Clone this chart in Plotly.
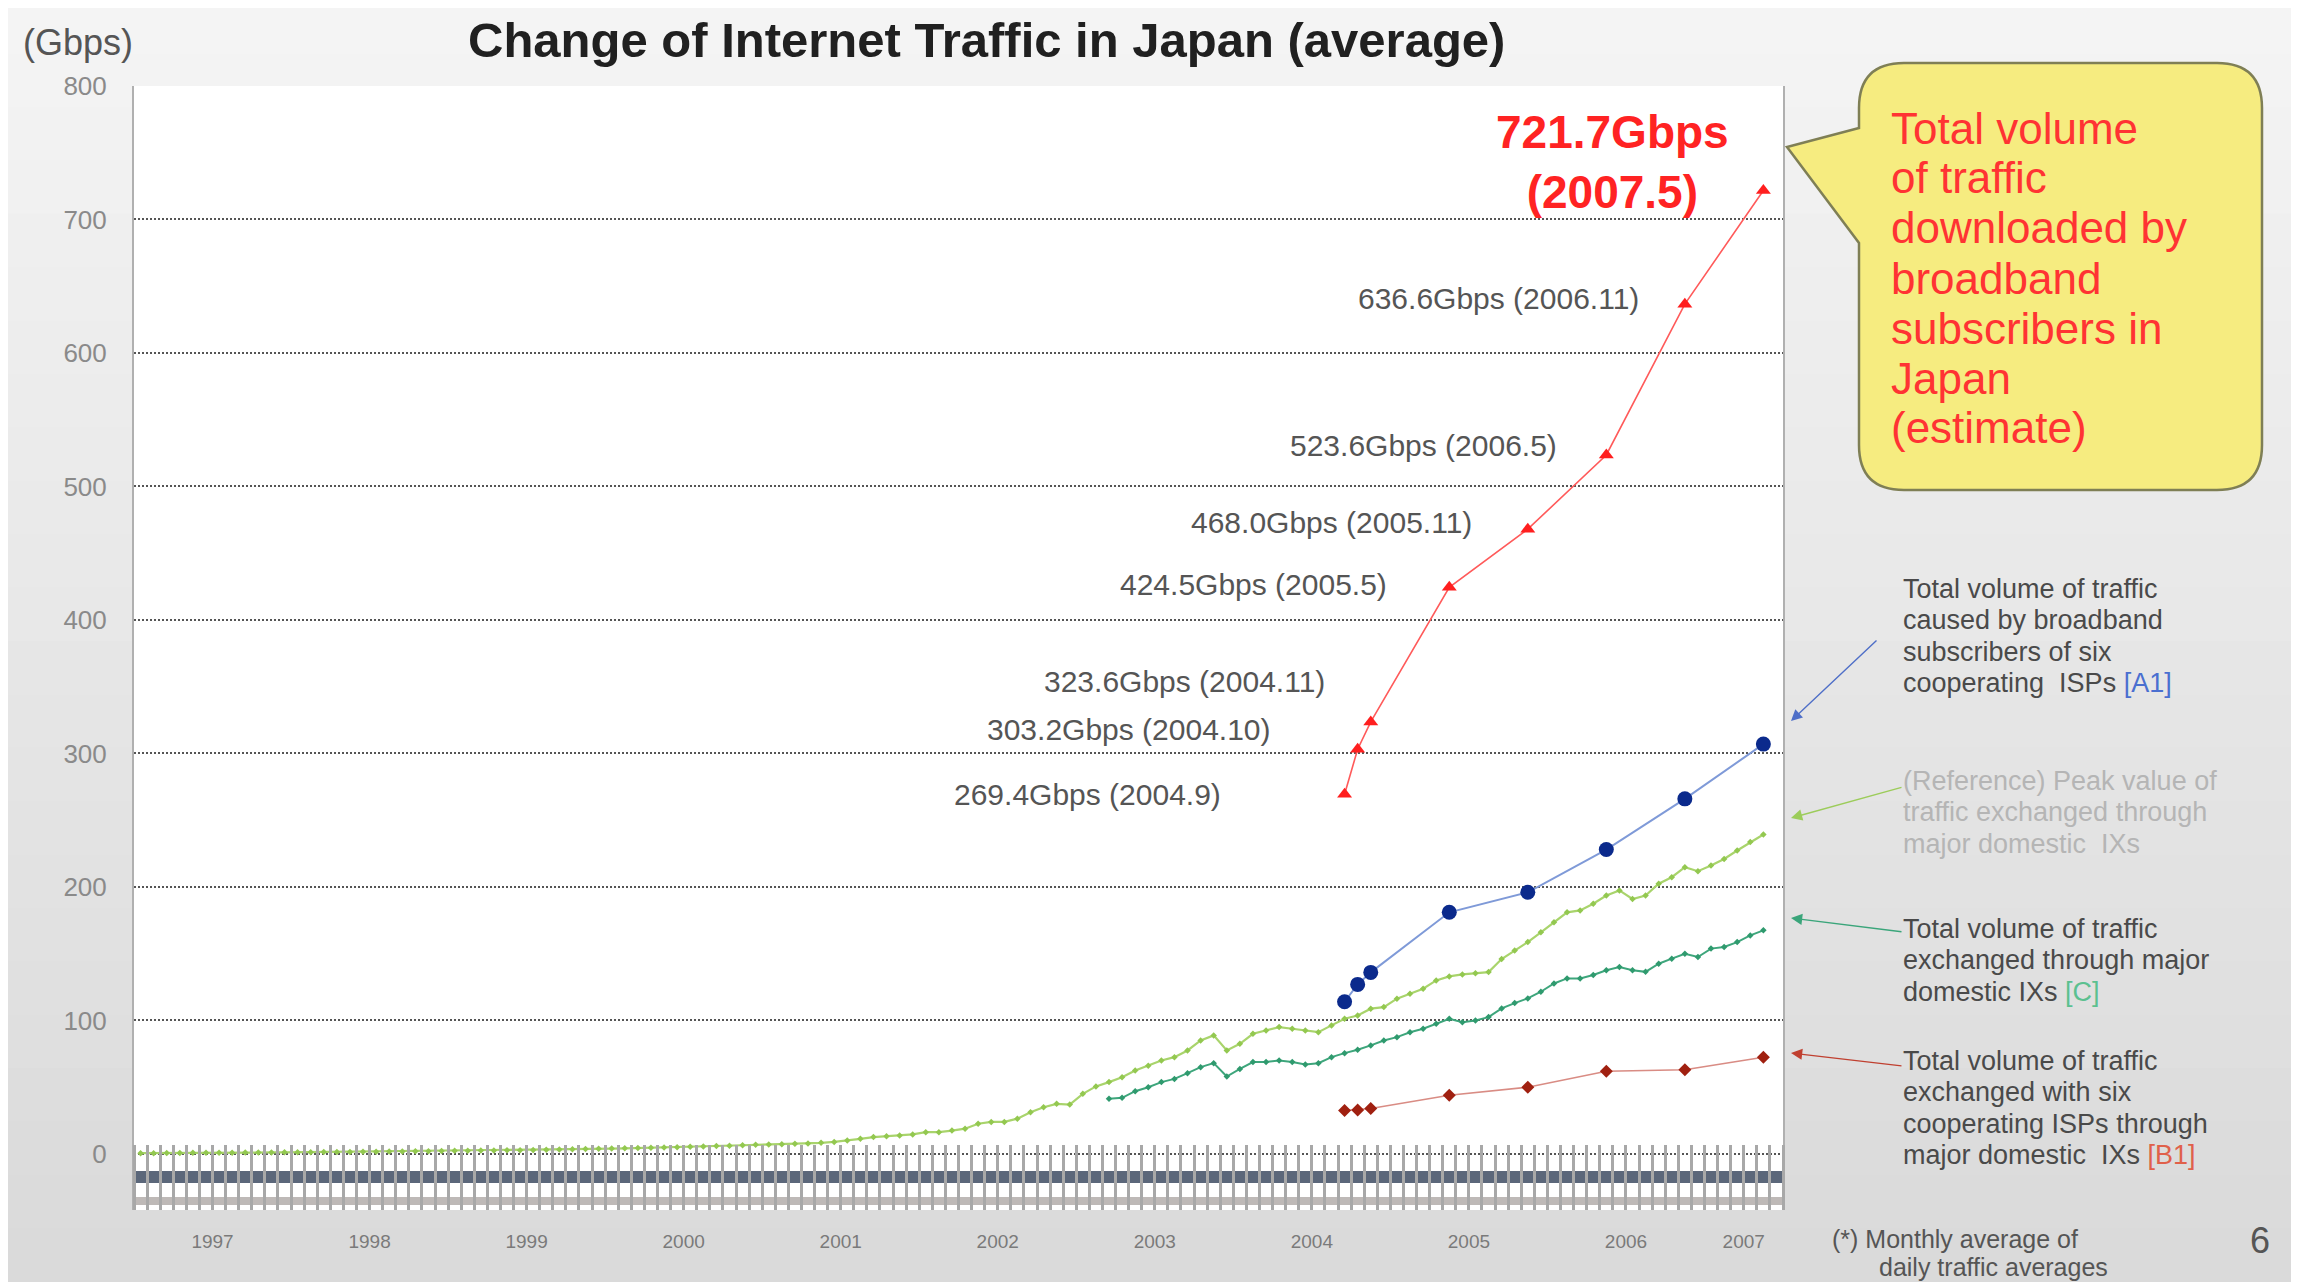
import plotly.graph_objects as go

# ---------------- data ----------------
years = list(range(1997, 2008))

survey_periods = ["2004.9", "2004.10", "2004.11", "2005.5", "2005.11", "2006.5", "2006.11", "2007.5"]
download_total_A = [269.4, 303.2, 323.6, 424.5, 468.0, 523.6, 636.6, 721.7]
subscribers_A1 = [114.0, 127.0, 136.0, 181.0, 196.0, 228.0, 266.0, 307.0]
exchanged_B1 = [32.5, 33.0, 34.0, 44.0, 50.0, 62.0, 63.0, 72.5]

peak_start = "1997.1"
peak_ix = [
    0.6, 0.6, 0.7, 0.7, 0.8, 0.8, 0.9, 0.9, 1.0, 1.0, 1.1, 1.2,
    1.3, 1.3, 1.4, 1.5, 1.5, 1.6, 1.7, 1.8, 1.9, 2.0, 2.1, 2.2,
    2.3, 2.4, 2.5, 2.6, 2.7, 2.8, 3.0, 3.1, 3.3, 3.5, 3.7, 3.9,
    4.0, 4.2, 4.4, 4.6, 4.8, 5.0, 5.3, 5.6, 5.9, 6.2, 6.5, 6.8,
    7.0, 7.3, 7.6, 7.9, 8.3, 9.0, 10.0, 11.3, 12.6, 13.3, 13.9, 14.6,
    16.3, 16.3, 17.5, 18.9, 22.6, 24.0, 24.0, 26.4, 31.3, 35.0, 37.5, 37.0,
    45.0, 50.6, 53.8, 57.5, 62.5, 66.0, 70.0, 72.5, 77.5, 85.0, 88.8, 77.5,
    82.5, 90.0, 92.5, 95.0, 93.8, 92.5, 91.2, 96.3, 101.3, 103.7, 108.8, 110.0,
    116.3, 120.0, 123.7, 130.0, 133.0, 134.5, 135.4, 136.2, 146.0, 152.4, 158.7, 166.0,
    173.6, 181.0, 182.4, 187.4, 193.6, 197.4, 191.0, 193.6, 202.4, 207.3, 214.8, 211.8,
    216.0, 221.0, 227.3, 233.6, 239.3,
]

avg_start = "2003.3"
avg_ix_C = [
    41.3, 42.0, 47.0, 50.0, 53.8, 56.2, 60.5, 65.0, 68.0, 58.0,
    63.7, 68.8, 68.8, 70.0, 68.8, 67.0, 68.0, 72.5, 75.5, 78.0, 81.3, 85.0,
    87.5, 91.2, 93.8, 97.5, 101.3, 98.7, 100.0, 102.5, 109.0, 113.0, 116.5, 121.5,
    127.7, 131.5, 131.5, 134.0, 137.6, 140.0, 137.6, 136.4, 142.5, 146.3, 150.0, 147.5,
    153.8, 155.0, 158.7, 163.7, 167.5,
]

y_ticks = [0, 100, 200, 300, 400, 500, 600, 700, 800]

# ---------------- geometry helpers ----------------
X_MIN, X_MAX = 1997.0, 2007.5
Y_MIN, Y_MAX = -42, 800

OFF = 8                      # page body margin of the html page
W, H = 2299 - OFF, 1282 - OFF
ML, MR, MT, MB = 134 - OFF, 516, 86 - OFF, 72
PW, PH = W - ML - MR, H - MT - MB
PX_PER_UNIT = PH / (Y_MAX - Y_MIN)


def px(x):
    """reference-pixel x -> paper coordinate"""
    return (x - OFF - ML) / PW


def py(y):
    """reference-pixel y -> paper coordinate"""
    return (H - MB - (y - OFF)) / PH


def ypos(v):
    """data value -> paper y (for free axes)"""
    return (v - Y_MIN) / (Y_MAX - Y_MIN)


def period_to_x(p):
    y, m = p.split(".")
    return int(y) + (int(m) - 0.5) / 12


def monthly_x(start, n):
    y, m = map(int, start.split("."))
    idx0 = y * 12 + m - 1
    return [(idx0 + i) // 12 + ((idx0 + i) % 12 + 0.5) / 12 for i in range(n)]


survey_x = [period_to_x(p) for p in survey_periods]
peak_x = monthly_x(peak_start, len(peak_ix))
avg_x = monthly_x(avg_start, len(avg_ix_C))

FONT = "Liberation Sans, Arial, sans-serif"

fig = go.Figure()

# empty helper traces so the decorative band axes get drawn
fig.add_trace(go.Scatter(x=[], y=[], xaxis="x3", yaxis="y", showlegend=False, hoverinfo="skip"))
fig.add_trace(go.Scatter(x=[], y=[], xaxis="x4", yaxis="y", showlegend=False, hoverinfo="skip"))

fig.add_trace(go.Scatter(
    x=peak_x, y=peak_ix, mode="lines+markers", name="Peak IX",
    line=dict(color="#a9d46c", width=2.2),
    marker=dict(symbol="diamond", size=5, color="#93c850"),
))
fig.add_trace(go.Scatter(
    x=avg_x, y=avg_ix_C, mode="lines+markers", name="[C]",
    line=dict(color="#3ea67c", width=2),
    marker=dict(symbol="diamond", size=5, color="#2f9a6e"),
))
fig.add_trace(go.Scatter(
    x=survey_x, y=exchanged_B1, mode="lines+markers", name="[B1]",
    line=dict(color="#d98c84", width=1.5),
    marker=dict(symbol="diamond", size=10, color="#a02010"),
))
fig.add_trace(go.Scatter(
    x=survey_x, y=subscribers_A1, mode="lines+markers", name="[A1]",
    line=dict(color="#7f9ad8", width=2),
    marker=dict(symbol="circle", size=15, color="#0b2a8c"),
))
fig.add_trace(go.Scatter(
    x=survey_x, y=download_total_A, mode="lines+markers", name="Total",
    line=dict(color="#ff5a5a", width=1.6),
    marker=dict(symbol="triangle-up", size=13, color="#ff1f1f"),
))

# ---------------- background (vertical gradient) ----------------
shapes = []
n_bands = 24
for i in range(n_bands):
    t = i / (n_bands - 1)
    c = int(round(244 - t * 26))
    y0 = 1282 * i / n_bands
    y1 = 1282 * (i + 1) / n_bands + 1
    shapes.append(dict(type="rect", xref="paper", yref="paper", layer="below",
                       x0=px(0), x1=px(2310), y0=py(y0), y1=py(y1),
                       fillcolor=f"rgb({c},{c},{c})", line=dict(width=0)))
shapes.append(dict(type="rect", xref="paper", yref="paper", layer="below",
                   x0=0, x1=1, y0=0, y1=1, fillcolor="white", line=dict(width=0)))

# callout box with pointer
bx0, bx1, by0, by1, r = 1859, 2262, 63, 490, 45
tipx, tipy, pa, pb = 1787, 147, 128, 243


def P(x, y):
    return f"{px(x):.5f},{py(y):.5f}"


path = (f"M{P(bx0 + r, by0)} L{P(bx1 - r, by0)} Q{P(bx1, by0)} {P(bx1, by0 + r)} "
        f"L{P(bx1, by1 - r)} Q{P(bx1, by1)} {P(bx1 - r, by1)} L{P(bx0 + r, by1)} "
        f"Q{P(bx0, by1)} {P(bx0, by1 - r)} L{P(bx0, pb)} L{P(tipx, tipy)} L{P(bx0, pa)} "
        f"L{P(bx0, by0 + r)} Q{P(bx0, by0)} {P(bx0 + r, by0)} Z")
shapes.append(dict(type="path", xref="paper", yref="paper", path=path,
                   fillcolor="#f6ec80", line=dict(color="#7f7f55", width=2.5)))

# ---------------- annotations ----------------
ann = []
ann.append(dict(xref="paper", yref="paper", x=px(673 * 1.466), y=py(40), showarrow=False,
                text="<b>Change of Internet Traffic in Japan (average)</b>",
                font=dict(family=FONT, size=49, color="#202020"),
                xanchor="center", yanchor="middle"))
ann.append(dict(xref="paper", yref="paper", x=px(78), y=py(42), showarrow=False,
                text="(Gbps)", font=dict(family=FONT, size=36, color="#555555"),
                xanchor="center", yanchor="middle"))

# value labels of the estimated total
gaps = [122, 85, 44, 60, 54, 47, 44]
lifts = [0, 20, 40, 3, 7, 9, 6]
for xv, v, p, g, l in zip(survey_x[:-1], download_total_A[:-1], survey_periods[:-1], gaps, lifts):
    ann.append(dict(xref="x", yref="y", x=xv, y=v, showarrow=False,
                    text=f"{v:.1f}Gbps ({p})", xanchor="right", yanchor="middle",
                    xshift=-g, yshift=l,
                    font=dict(family=FONT, size=30, color="#555555")))
ann.append(dict(xref="paper", yref="paper", x=px(1612), y=py(162), showarrow=False,
                text=f"<b>{download_total_A[-1]:.1f}Gbps<br>({survey_periods[-1]})</b>",
                align="center", xanchor="center", yanchor="middle",
                font=dict(family=FONT, size=46, color="#ff2323")))

# callout text
callout_lines = ["Total volume", "of traffic", "downloaded by", "broadband",
                 "subscribers in", "Japan", "(estimate)"]
for i, line in enumerate(callout_lines):
    ann.append(dict(xref="paper", yref="paper", x=px(1889), y=py(128 + 50 * i),
                    showarrow=False, text=line, xanchor="left", yanchor="middle",
                    font=dict(family=FONT, size=44, color="#ff3333")))

# right-hand descriptions
DARK, LIGHT = "#4a4a4a", "#b5b5b5"
blocks = [
    (589, DARK, ["Total volume of traffic", "caused by broadband", "subscribers of six",
                 "cooperating  ISPs <span style='color:#4a6fd0'>[A1]</span>"]),
    (781, LIGHT, ["(Reference) Peak value of", "traffic exchanged through",
                  "major domestic  IXs"]),
    (929, DARK, ["Total volume of traffic", "exchanged through major",
                 "domestic IXs <span style='color:#5cc090'>[C]</span>"]),
    (1061, DARK, ["Total volume of traffic", "exchanged with six",
                  "cooperating ISPs through",
                  "major domestic  IXs <span style='color:#e0604a'>[B1]</span>"]),
]
for top, col, lines in blocks:
    for i, line in enumerate(lines):
        ann.append(dict(xref="paper", yref="paper", x=px(1901), y=py(top + 31.3 * i),
                        showarrow=False, text=line, xanchor="left", yanchor="middle",
                        font=dict(family=FONT, size=27, color=col)))

ann.append(dict(xref="paper", yref="paper", x=px(1830), y=py(1239), showarrow=False,
                text="(*) Monthly average of", xanchor="left", yanchor="middle",
                font=dict(family=FONT, size=25, color="#555555")))
ann.append(dict(xref="paper", yref="paper", x=px(1877), y=py(1267), showarrow=False,
                text="daily traffic averages", xanchor="left", yanchor="middle",
                font=dict(family=FONT, size=25, color="#555555")))
ann.append(dict(xref="paper", yref="paper", x=px(2260), y=py(1240), showarrow=False,
                text="6", xanchor="center", yanchor="middle",
                font=dict(family=FONT, size=36, color="#555555")))

# arrows from descriptions to series
arrows = [((1791, 721), (1878, 639), "#4f6fc8"),
          ((1791, 818), (1903, 787), "#9ccc5a"),
          ((1791, 918), (1903, 932), "#3aa57a"),
          ((1791, 1053), (1903, 1066), "#c04030")]
for (tx, ty), (sx, sy), col in arrows:
    ann.append(dict(xref="paper", yref="paper", x=px(tx), y=py(ty), text="",
                    showarrow=True, ax=sx - tx, ay=sy - ty, axref="pixel", ayref="pixel",
                    arrowhead=2, arrowsize=1.6, arrowwidth=1.4, arrowcolor=col))

# ---------------- axes ----------------
label_pos = [min(y + 0.5, (y + X_MAX) / 2) for y in years]
band_common = dict(overlaying="x", anchor="free", side="bottom", range=[X_MIN, X_MAX],
                   showticklabels=False, ticks="", showgrid=False, zeroline=False,
                   showline=True)

fig.update_layout(
    width=W, height=H,
    margin=dict(l=ML, r=MR, t=MT, b=MB, pad=0),
    paper_bgcolor="#e6e6e6", plot_bgcolor="white",
    showlegend=False,
    shapes=shapes, annotations=ann,
    font=dict(family=FONT),
    xaxis=dict(
        range=[X_MIN, X_MAX], tickmode="array", tickvals=label_pos,
        ticktext=[str(y) for y in years], ticks="", showgrid=False, zeroline=False,
        showline=False,
        tickfont=dict(size=19, color="#7a7a7a", family=FONT), ticklabelstandoff=18,
        minor=dict(tickmode="linear", tick0=X_MIN, dtick=1 / 12, ticks="inside",
                   ticklen=-Y_MIN * PX_PER_UNIT + 9, tickwidth=3, tickcolor="#a8a8a8",
                   showgrid=False),
    ),
    xaxis2=dict(
        overlaying="x", anchor="y", side="bottom", range=[X_MIN, X_MAX],
        tickmode="array", tickvals=years, ticks="outside", ticklen=42, tickwidth=1.5,
        tickcolor="#9a9a9a", showticklabels=False, showgrid=False, zeroline=False,
        showline=False,
    ),
    xaxis3=dict(position=ypos(-17.6), linecolor="rgba(45,60,85,0.78)", linewidth=12,
                **band_common),
    xaxis4=dict(position=ypos(-35), linecolor="rgba(110,100,95,0.45)", linewidth=8,
                **band_common),
    yaxis=dict(
        range=[Y_MIN, Y_MAX], tickmode="array", tickvals=y_ticks,
        ticktext=[str(v) for v in y_ticks], ticks="", showgrid=True,
        gridcolor="#555555", griddash="2px,2px", gridwidth=2, zeroline=False,
        showline=True, linecolor="#b0b0b0", linewidth=2, mirror=True,
        tickfont=dict(size=26, color="#8a8a8a", family=FONT), ticklabelstandoff=20,
    ),
)

fig.write_html("out.html")
